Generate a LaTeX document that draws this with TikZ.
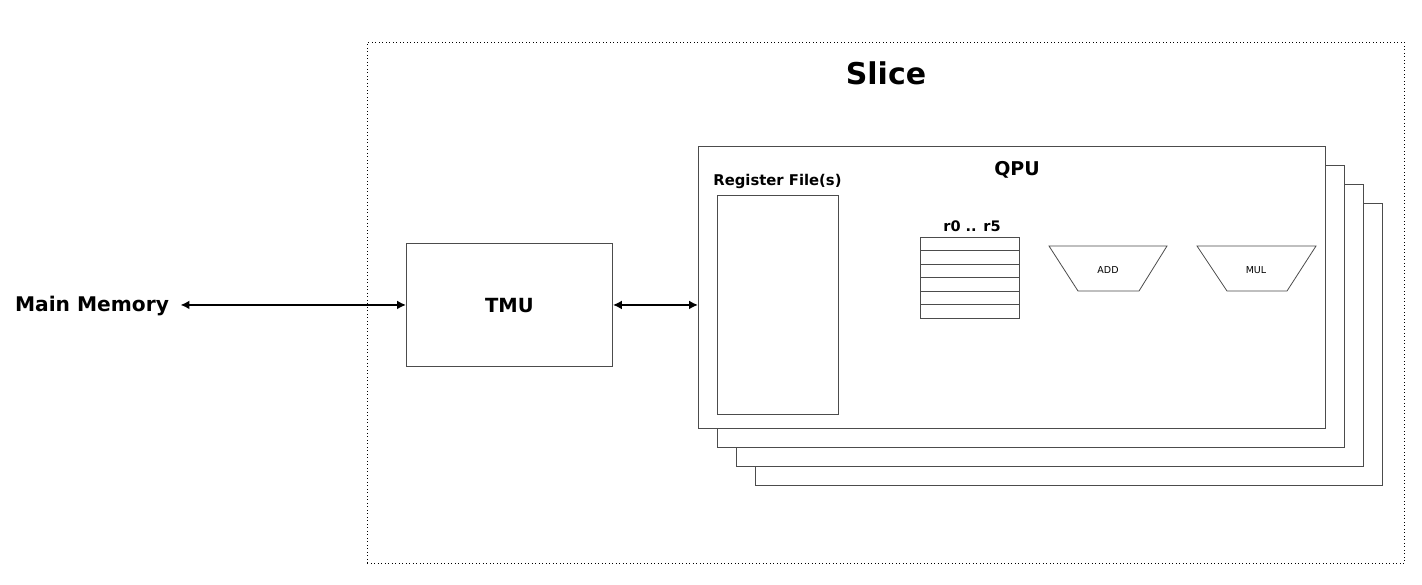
\documentclass[tikz,border=0pt]{standalone}
\usepackage{fontspec}
\setmainfont{DejaVu Sans}
\usetikzlibrary{arrows.meta}

\tikzset{
  blk/.style={draw=black!70, line width=0.9pt, fill=white, inner sep=0pt},
  biarrow/.style={{Latex[length=9pt,width=9pt]}-{Latex[length=9pt,width=9pt]}, line width=2pt},
  unit/.style={draw=black!70, line width=0.8pt, fill=white},
}

\begin{document}
\begin{tikzpicture}[x=1pt,y=-1pt]
\useasboundingbox (0,0) rectangle (1422,584);

% the slice
\node[draw=black, line width=0.9pt, dash pattern=on 0.9pt off 2.6pt, minimum width=1037, minimum height=521, anchor=north west, inner sep=0pt] (slice) at (367,42) {};
\node (slicelabel) at (886,73) {\fontsize{30}{36}\selectfont\bfseries Slice};

% main memory and TMU
\node (mem) at (92,306.5) {\fontsize{20.2}{24}\selectfont\bfseries Main Memory};
\node[blk, minimum width=206, minimum height=123, anchor=north west] (tmu) at (406,243) {};
\node (tmulabel) at ([yshift=-1]tmu.center) {\fontsize{19.5}{24}\selectfont\bfseries TMU};

% stacked QPUs
\foreach \i in {3,2,1}
  \node[blk, minimum width=627, minimum height=282, anchor=north west] (qpu\i) at (698+19*\i,146+19*\i) {};
\node[blk, minimum width=627, minimum height=282, anchor=north west] (qpu) at (698,146) {};
\node (qpulabel) at (1017,170) {\fontsize{19}{23}\selectfont\bfseries QPU};

% register file
\node[blk, minimum width=121, minimum height=219, anchor=north west] (rf) at (717,195) {};
\node (rflabel) at (777.5,181) {\fontsize{14.8}{17}\selectfont\bfseries Register File(s)};

% accumulators r0..r5
\node[unit, minimum width=99, minimum height=81, anchor=north west, inner sep=0pt] (acc) at (920,237) {};
\foreach \k in {1,...,5}
  \draw[draw=black!70, line width=0.8pt] ([yshift=-13.5*\k]acc.north west) -- ([yshift=-13.5*\k]acc.north east);
\node (acclabel) at (972,226) {\fontsize{14.5}{17}\selectfont\bfseries r0 .. r5};

% ALUs
\draw[unit] (1049,246) -- (1167,246) -- (1139,291) -- (1078,291) -- cycle;
\node (add) at (1108,270) {\fontsize{9.5}{11}\selectfont ADD};
\draw[unit] (1197,246) -- (1316,246) -- (1287,291) -- (1227,291) -- cycle;
\node (mul) at (1256,270) {\fontsize{9.5}{11}\selectfont MUL};

% connections
\draw[biarrow] ([xshift=8pt]mem.east |- tmu.west) -- (tmu.west);
\draw[biarrow] (tmu.east) -- (tmu.east -| qpu.west);
\end{tikzpicture}
\end{document}
